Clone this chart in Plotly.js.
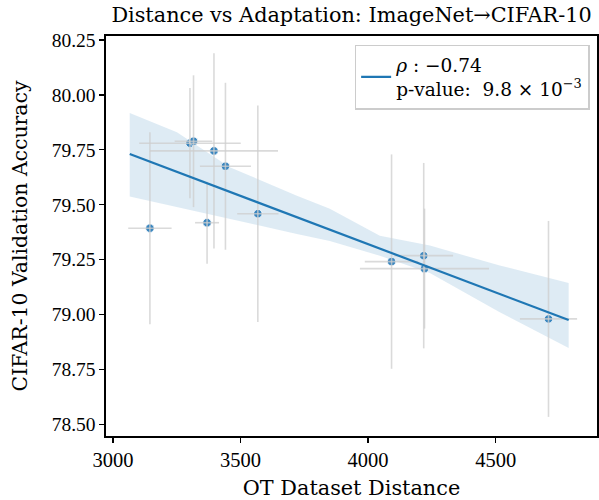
<!DOCTYPE html>
<html>
<head>
<meta charset="utf-8">
<script src="https://cdn.plot.ly/plotly-3.0.1.min.js"></script>
<style>html,body{margin:0;padding:0;background:#fff;}#chart{width:599px;height:500px;}</style>
</head>
<body>
<div id="chart"></div>
<script>
// OT dataset distance (x) and CIFAR-10 validation accuracy (y), with error bars
const distances = [3145, 3302, 3316, 3396, 3441, 3369, 3568, 4092, 4218, 4221, 4707];
const accuracy  = [79.393, 79.780, 79.789, 79.745, 79.675, 79.418, 79.459, 79.241, 79.268, 79.209, 78.980];
const distErr   = [85, 199, 74, 251, 100, 47, 81, 105, 115, 253, 112];
const accErr    = [0.437, 0.251, 0.300, 0.444, 0.380, 0.187, 0.493, 0.488, 0.422, 0.273, 0.446];

// Regression fit line and bootstrap confidence band
const fitX = [3066, 4786];
const fitY = [79.731, 78.975];
const bandX     = [3066, 3251, 3458, 3721, 3850, 4046, 4242, 4398, 4516, 4786];
const bandUpper = [79.917, 79.830, 79.671, 79.541, 79.481, 79.359, 79.314, 79.261, 79.223, 79.144];
const bandLower = [79.537, 79.488, 79.435, 79.367, 79.335, 79.268, 79.189, 79.086, 79.010, 78.848];

const legendText = '<i>ρ</i> : −0.74<br>p-value:  9.8 × 10<sup>−3</sup>';
const titleText = 'Distance vs Adaptation: ImageNet→CIFAR-10';
const xTitle = 'OT Dataset Distance';
const yTitle = 'CIFAR-10 Validation Accuracy';
const xTicks = [3000, 3500, 4000, 4500];
const yTicks = [78.50, 78.75, 79.00, 79.25, 79.50, 79.75, 80.00, 80.25];

const serif = 'DejaVu Serif, Liberation Serif, serif';
const tickSerif = 'Liberation Serif, DejaVu Serif, serif';
const blue = '#1f77b4';

const traces = [
  {x: bandX, y: bandLower, mode: 'lines', line: {width: 0, color: 'rgba(0,0,0,0)'}, showlegend: false, hoverinfo: 'skip'},
  {x: bandX, y: bandUpper, mode: 'lines', line: {width: 0, color: 'rgba(0,0,0,0)'}, fill: 'tonexty',
   fillcolor: 'rgba(31,119,180,0.15)', showlegend: false, hoverinfo: 'skip'},
  {x: distances, y: accuracy, mode: 'markers', showlegend: false,
   marker: {size: 8.5, color: '#3a86bf', line: {width: 0.8, color: '#ffffff'}}},
  {x: distances, y: accuracy, mode: 'markers', showlegend: false,
   marker: {size: 8, opacity: 0},
   error_x: {type: 'data', array: distErr, visible: true, color: 'rgba(205,205,205,0.75)', thickness: 1.6, width: 0},
   error_y: {type: 'data', array: accErr, visible: true, color: 'rgba(205,205,205,0.75)', thickness: 1.6, width: 0}},
  {x: fitX, y: fitY, mode: 'lines', name: legendText, line: {color: blue, width: 2.2}}
];

const layout = {
  width: 599, height: 500,
  margin: {l: 106, r: 2, t: 36, b: 64},
  paper_bgcolor: '#fff', plot_bgcolor: '#fff',
  font: {family: serif, size: 19, color: '#000'},
  title: {text: titleText, font: {family: serif, size: 20.8, color: '#000'}, xref: 'paper', x: 0.5, xanchor: 'center',
          yref: 'container', y: 0.986, yanchor: 'top'},
  xaxis: {
    range: [2973, 4897], tickvals: xTicks, ticktext: xTicks.map(String),
    showgrid: false, zeroline: false, ticks: 'outside', ticklen: 5, tickwidth: 1.3, tickcolor: '#000',
    showline: true, linecolor: '#000', linewidth: 1.6, mirror: true,
    tickfont: {family: tickSerif, size: 20.5},
    title: {text: xTitle, font: {family: serif, size: 20.8}, standoff: 10}
  },
  yaxis: {
    range: [78.447, 80.268], tickvals: yTicks, ticktext: yTicks.map(v => v.toFixed(2)),
    showgrid: false, zeroline: false, ticks: 'outside', ticklen: 5, tickwidth: 1.3, tickcolor: '#000',
    showline: true, linecolor: '#000', linewidth: 1.6, mirror: true,
    tickfont: {family: tickSerif, size: 19.5},
    title: {text: yTitle, font: {family: serif, size: 20.4}, standoff: 18}
  },
  showlegend: true,
  legend: {x: 0.985, xanchor: 'right', y: 0.978, yanchor: 'top', bgcolor: 'rgba(255,255,255,0.8)',
    bordercolor: '#cccccc', borderwidth: 1.5, font: {family: serif, size: 18.5}, itemwidth: 30}
};

Plotly.newPlot('chart', traces, layout, {displayModeBar: false, staticPlot: true});
</script>
</body>
</html>
